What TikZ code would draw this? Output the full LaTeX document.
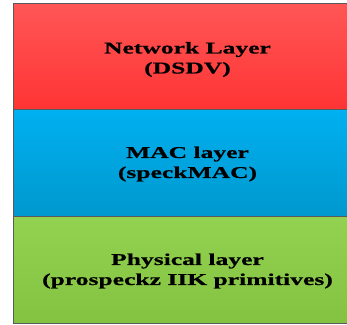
\documentclass[tikz,border=0pt]{standalone}
\usepackage{fontspec}
\setmainfont{Liberation Serif}
\newfontfamily\layerfont[FakeStretch=1.55,FakeBold=0.6]{Liberation Serif Bold}
\definecolor{redtop}{HTML}{FF5656}
\definecolor{redbot}{HTML}{FF3434}
\definecolor{bluetop}{HTML}{00B0F0}
\definecolor{bluebot}{HTML}{0098CE}
\definecolor{greentop}{HTML}{93D150}
\definecolor{greenbot}{HTML}{84C341}
\definecolor{edge}{HTML}{5A5A5A}
\tikzset{
  layerbox/.style={draw=edge, line width=1pt, rectangle, inner sep=0pt,
    minimum width=360pt, anchor=north west},
  layertext/.style={align=center, inner sep=0pt,
    font=\layerfont\fontsize{16.5pt}{20pt}\selectfont}
}
\begin{document}
\begin{tikzpicture}[x=1pt,y=1pt]
  \clip (0,0) rectangle (347,324);
  % protocol stack, top to bottom
  \node[layerbox, minimum height=106pt, top color=redtop, bottom color=redbot]
    (net) at (13,321) {};
  \node[layerbox, minimum height=107pt, top color=bluetop, bottom color=bluebot]
    (mac) at (13,215) {};
  \node[layerbox, minimum height=107pt, top color=greentop, bottom color=greenbot]
    (phy) at (13,108) {};
  % layer labels, placed in each layer's visible part
  \node[layertext] (netlabel) at ([xshift=-6pt,yshift=-3pt]net.center)
    {Network Layer\\(DSDV)};
  \node[layertext] (maclabel) at ([xshift=-6pt,yshift=-1pt]mac.center)
    {MAC layer\\(speckMAC)};
  \node[layertext] (phylabel) at ([xshift=-6pt,yshift=-1pt]phy.center)
    {Physical layer\\(prospeckz IIK primitives)};
\end{tikzpicture}
\end{document}
